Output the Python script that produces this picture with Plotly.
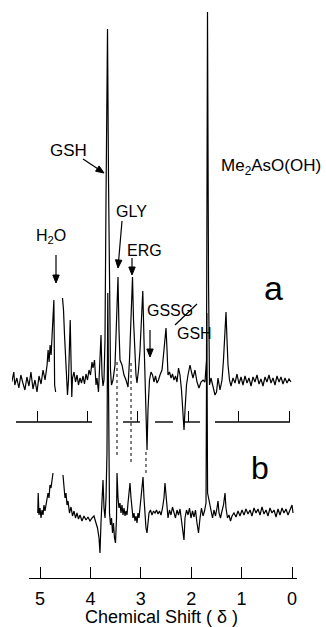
import math
import plotly.graph_objects as go

# ---------------- data (ppm, intensity) ----------------
# spectrum a (upper trace); None = pen lifted (water region)
a_ppm = [5.50, 5.46, 5.44, 5.40, 5.36, 5.32, 5.28, 5.24, 5.20, 5.16, 5.12, 5.08, 5.04, 5.00, 4.96, 4.92, 4.88, 4.84, 4.80,
         4.78, 4.76, 4.74, 4.72, 4.70, 4.68, 4.665, 4.65, 4.63, None,
         4.494, 4.474, 4.454, 4.434, 4.415, 4.395, 4.375, 4.355, 4.341, 4.325, 4.31, 4.296, 4.266, 4.236, 4.206, 4.177,
         4.147, 4.117, 4.087, 4.058, 4.028, 3.998, 3.968, 3.938, 3.909, 3.889, 3.859, 3.829, 3.810, 3.780, 3.750, 3.730,
         3.710, 3.690, 3.671, 3.651, 3.631, 3.601, 3.581, 3.562, 3.542, 3.522, 3.492, 3.452, 3.423, 3.393, 3.373, 3.353,
         3.313, 3.274, 3.234, 3.194, 3.165, 3.135, 3.105, 3.085, 3.065, 3.036, 3.016, 2.986, 2.956, 2.927, 2.901, 2.877,
         2.857, 2.837, 2.817, 2.798, 2.768, 2.738, 2.708, 2.679, 2.649, 2.619, 2.589, 2.560, 2.520, 2.49, 2.46, 2.44, 2.42,
         2.401, 2.371, 2.341, 2.312, 2.282, 2.252, 2.222, 2.192, 2.163, 2.133, 2.103, 2.083, 2.063, 2.034, 2.004, 1.964,
         1.935, 1.905, 1.865, 1.825, 1.786, 1.746, 1.706, 1.667, 1.637, 1.617, 1.597, 1.577, 1.548, 1.508, 1.468, 1.438,
         1.409, 1.369, 1.329, 1.300, 1.270, 1.250, 1.230, 1.210, 1.181, 1.151, 1.111, 1.071, 1.032, 0.992, 0.952, 0.913,
         0.873, 0.833, 0.794, 0.754, 0.714, 0.675, 0.635, 0.595, 0.556, 0.516, 0.476, 0.437, 0.397, 0.357, 0.317, 0.278,
         0.238, 0.198, 0.159, 0.119, 0.079, 0.040, 0.0, -0.04]
a_int = [-2, 8, -5, 2, -8, 5, -3, -10, 3, -6, 8, -9, 0, -12, 4, -4, 10, 0, 15,
         30, 18, 35, 25, 45, 70, 80, -5, -12, None,
         82, 70, 45, 20, -5, -15, 0, 35, 60, 20, -17, 2, 8, -2, 5, -5,
         2, -3, 4, -4, 6, 0, 10, 5, 18, 12, 20, -5, 2, -12, 30, 45,
         5, -6, 0, 40, 180, 351, 200, 60, 10, -5, 0, 15, 60, 103, 50, 20,
         15, 5, 0, -7, 20, 70, 103, 60, 30, 5, -3, 10, 30, 60, 89, 40,
         0, -50, -70, -30, 0, 8, 5, -2, 4, -3, 0, 5, 10, 25, 45, 52, 30,
         5, 8, 2, 6, 0, 4, -2, 12, 5, -10, -40, -50, -30, -5, 5, 15,
         8, 2, 10, -2, -8, -2, 0, -2, 20, 368, 100, -5, 2, -8, -15, -12,
         2, -10, 0, 20, 45, 68, 40, 15, 0, -6, 2, -3, 6, -4, 3, -5,
         4, -3, 2, -6, 3, -2, 5, -4, 1, -6, 3, -2, 5, -3, 2, -5,
         4, -2, 3, -4, 2, -3, 1, -2]

# spectrum b (lower trace)
b_ppm = [5.044, 5.036, 5.020, 5.0, 4.980, 4.960, 4.940, 4.921, 4.901, 4.881, 4.861, 4.841, 4.821, 4.802, 4.782, 4.762,
         4.742, None,
         4.544, 4.524, 4.504, 4.484, 4.464, 4.444, 4.415, 4.385, 4.355, 4.325, 4.296, 4.266, 4.236, 4.206, 4.167, 4.127,
         4.087, 4.048, 4.008, 3.968, 3.929, 3.889, 3.859, 3.829, 3.810, 3.790, 3.770, 3.750, 3.730, 3.710, 3.690, 3.671,
         3.655, 3.639, 3.621, 3.601, 3.581, 3.561, 3.542, 3.522, 3.502, 3.482, 3.472, 3.452, 3.433, 3.413, 3.393, 3.373,
         3.353, 3.333, 3.313, 3.294, 3.274, 3.254, 3.234, 3.214, 3.194, 3.175, 3.155, 3.135, 3.115, 3.095, 3.075, 3.056,
         3.036, 3.016, 2.996, 2.976, 2.956, 2.937, 2.917, 2.897, 2.877, 2.857, 2.837, 2.808, 2.778, 2.748, 2.718, 2.688,
         2.659, 2.629, 2.599, 2.569, 2.540, 2.520, 2.500, 2.480, 2.460, 2.431, 2.401, 2.371, 2.341, 2.312, 2.282, 2.252,
         2.222, 2.192, 2.163, 2.143, 2.123, 2.093, 2.063, 2.034, 2.004, 1.974, 1.944, 1.915, 1.885, 1.855, 1.825, 1.796,
         1.766, 1.736, 1.706, 1.690, 1.675, 1.657, 1.637, 1.607, 1.577, 1.548, 1.518, 1.488, 1.468, 1.448, 1.419, 1.389,
         1.359, 1.329, 1.310, 1.280, 1.250, 1.220, 1.190, 1.151, 1.111, 1.071, 1.032, 0.992, 0.952, 0.913, 0.873, 0.833,
         0.794, 0.754, 0.714, 0.675, 0.635, 0.595, 0.556, 0.516, 0.476, 0.437, 0.397, 0.357, 0.317, 0.278, 0.238, 0.198,
         0.159, 0.119, 0.079, 0.040, 0.0, -0.02]
b_int = [0, 20, -2, 5, -5, 3, -2, 8, 2, 10, 14, 20, 15, 28, 25, 35,
         40, None,
         38, 25, 15, 20, 8, 12, 0, 6, -3, 2, -5, 0, -6, -2, -8, -3,
         -7, -4, -8, -5, -3, -10, -15, -25, -40, -10, 15, 33, 5, -5, 15, 60,
         220, 80, 0, -12, -5, -20, -10, -25, -30, -5, 40, 15, 5, 10, 0, 8,
         -2, 5, -3, 2, -2, 10, 18, 30, 15, 5, -5, 0, -8, -3, -10, 0,
         -5, 5, 15, 25, 36, 15, -5, -15, -20, -12, 0, 3, -2, 2, 0, 3,
         -1, 2, -2, 5, 15, 30, 15, 0, -5, 3, -2, 6, 0, -5, 3, -2,
         4, -8, -15, -27, -5, 3, -2, 5, -5, 2, -4, 3, -10, -20, -5, 5,
         -3, 2, 10, 200, 20, 15, 8, 0, -5, 3, -3, 5, 12, 0, -5, 2,
         8, 20, 5, -5, -2, -8, -3, 0, -4, 2, -3, 3, -2, 4, -1, 3,
         -3, 5, 0, 4, -2, 6, -1, 3, -3, 5, 0, 3, -4, 4, -2, 5,
         0, 4, -2, 3, 8, 0]

tick_vals = [5, 4, 3, 2, 1, 0]
tick_text = ["5", "4", "3", "2", "1", "0"]
connector_ppm = [3.472, 3.194, 2.897]

# ---------------- layout helpers ----------------
W, H = 326, 627
FONT = "Liberation Sans, Arial, sans-serif"


def P(x, y):
    return x / W, 1 - y / H


fig = go.Figure()
fig.add_trace(go.Scatter(x=a_ppm, y=a_int, xaxis="x2", yaxis="y", mode="lines",
                         line=dict(color="black", width=1.2), connectgaps=False,
                         showlegend=False, hoverinfo="skip"))
fig.add_trace(go.Scatter(x=b_ppm, y=b_int, xaxis="x", yaxis="y2", mode="lines",
                         line=dict(color="black", width=1.2), connectgaps=False,
                         showlegend=False, hoverinfo="skip"))

mid_pos = (H - 422) / H
bot_pos = (H - 578) / H

shapes = []
# dotted connectors between spectra
conn_spans = [(151, 58), (150, 50), (61, 38)]
for xp, (y0, y1) in zip(connector_ppm, conn_spans):
    shapes.append(dict(type="line", xref="x", yref="y2", x0=xp, x1=xp, y0=y0, y1=y1,
                       line=dict(color="black", width=1, dash="dot")))
# broken middle baseline axis
for s0, s1 in [(5.417, 3.909), (3.294, 2.956), (2.659, 2.302), (2.103, 1.766), (1.468, -0.02)]:
    shapes.append(dict(type="line", xref="x2", yref="paper", x0=s0, x1=s1, y0=mid_pos, y1=mid_pos,
                       line=dict(color="black", width=1.4)))
# GSSG / GSH slash
x0, y0 = P(175, 325)
x1, y1 = P(197, 304)
shapes.append(dict(type="line", xref="paper", yref="paper", x0=x0, y0=y0, x1=x1, y1=y1,
                   line=dict(color="black", width=1.2)))


def arrow(tail, head, hl=8.0, hw=3.2):
    tx, ty = tail
    hx, hy = head
    d = math.hypot(hx - tx, hy - ty)
    ux, uy = (hx - tx) / d, (hy - ty) / d
    bx, by = hx - ux * hl, hy - uy * hl
    px_, py_ = -uy, ux
    a0 = P(tx, ty)
    a1 = P(bx, by)
    shapes.append(dict(type="line", xref="paper", yref="paper", x0=a0[0], y0=a0[1], x1=a1[0], y1=a1[1],
                       line=dict(color="black", width=1.2)))
    pts = [P(hx, hy), P(bx + px_ * hw, by + py_ * hw), P(bx - px_ * hw, by - py_ * hw)]
    path = "M {} {} L {} {} L {} {} Z".format(pts[0][0], pts[0][1], pts[1][0], pts[1][1], pts[2][0], pts[2][1])
    shapes.append(dict(type="path", xref="paper", yref="paper", path=path,
                       fillcolor="black", line=dict(color="black", width=1)))


arrow((83, 159), (104, 173))
arrow((56, 255), (56, 283))
arrow((122, 221), (118, 268))
arrow((132, 258), (132, 275))
arrow((150, 330), (150, 357))

annotations = []


def label(text, x, y, size=16):
    px, py = P(x, y)
    annotations.append(dict(text=text, x=px, y=py, xref="paper", yref="paper", showarrow=False,
                            xanchor="center", yanchor="middle",
                            font=dict(family=FONT, size=size, color="black")))


label("GSH", 68.5, 150, 17)
label("Me<sub>2</sub>AsO(OH)", 271, 167, 17)
label("H<sub>2</sub>O", 51, 236, 16)
label("GLY", 131.5, 211, 16)
label("ERG", 144.5, 250, 16)
label("a", 273, 288, 34)
label("GSSG", 170, 310, 16)
label("GSH", 194, 333, 16)
label("b", 259.5, 468, 32)
label("Chemical Shift ( δ )", 161, 617, 18)

fig.update_layout(
    width=W, height=H, margin=dict(l=0, r=0, t=0, b=0),
    paper_bgcolor="white", plot_bgcolor="rgba(0,0,0,0)",
    showlegend=False,
    xaxis=dict(domain=[29 / W, 297 / W], range=[263 / 50.4, -5 / 50.4], anchor="free", position=bot_pos,
               showline=True, linecolor="black", linewidth=1.4, ticks="inside", ticklen=11,
               tickwidth=1.2, tickcolor="black", tickvals=tick_vals, ticktext=tick_text,
               tickfont=dict(family=FONT, size=18, color="black"), showgrid=False, zeroline=False,
               ticklabelstandoff=4),
    xaxis2=dict(domain=[12 / W, 293 / W], range=[277 / 50.4, -4 / 50.4], anchor="free", position=mid_pos,
                showline=False, ticks="inside", ticklen=11, tickwidth=1.2, tickcolor="black",
                tickvals=tick_vals, showticklabels=False, showgrid=False, zeroline=False),
    yaxis=dict(domain=[0, 1], range=[-247, 380], visible=False),
    yaxis2=dict(domain=[0, 1], range=[-114, 513], visible=False, overlaying="y"),
    shapes=shapes,
    annotations=annotations,
)

fig.write_html("out.html")
